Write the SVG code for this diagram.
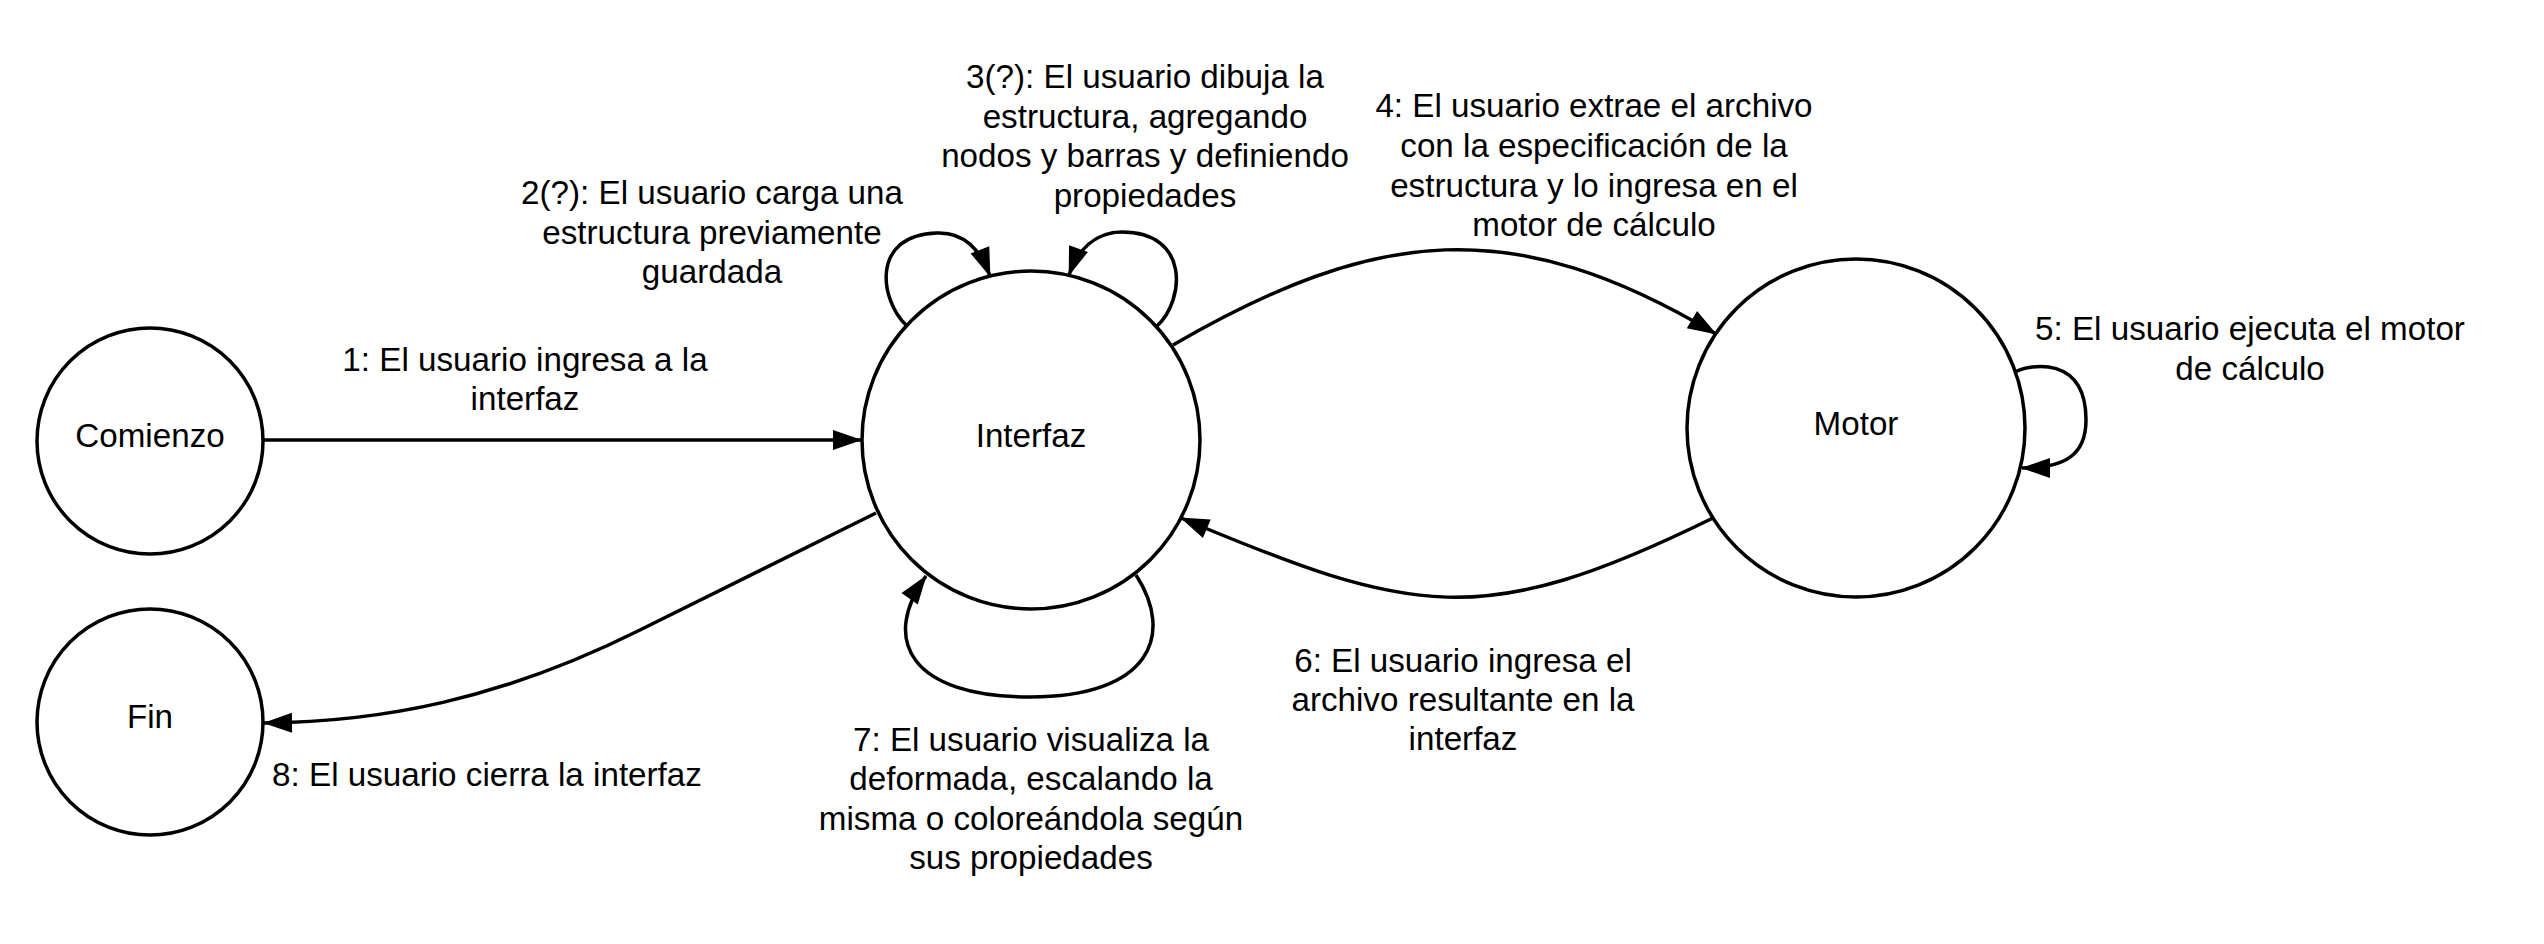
<svg xmlns="http://www.w3.org/2000/svg" width="2544" height="944" viewBox="0 0 2544 944">
<style>
.node{fill:#ffffff;stroke:#000000;stroke-width:3.5}
.edge{fill:none;stroke:#000000;stroke-width:3.5;marker-end:url(#arr)}
text{font-family:"Liberation Sans",Arial,sans-serif;font-size:33.2px;fill:#000000;text-anchor:middle}
</style>
<defs>
<marker id="arr" markerUnits="userSpaceOnUse" markerWidth="32" markerHeight="24" viewBox="-30 -12 32 24" refX="0" refY="0" orient="auto">
<path d="M1,0 L-28,-10 L-28,10 Z" fill="#000000"/>
</marker>
</defs>
<rect width="2544" height="944" fill="#ffffff"/>
<g id="connectors">
<path class="edge" d="M263,440 L861,440"/>
<path class="edge" d="M906,325 C880,300 870,235 937,233 C965,232 980,250 990,276"/>
<path class="edge" d="M1157,326 C1185,300 1190,232 1122,232 C1095,232 1078,250 1069,275"/>
<path class="edge" d="M1173,345 C1377,227 1513,213 1716,334"/>
<path class="edge" d="M2015,372 C2030,364 2086,355 2086,420 C2086,455 2065,468 2022,468"/>
<path class="edge" d="M1713,518 C1481,632 1412,615 1181,518"/>
<path class="edge" d="M1136,575 C1175,635 1150,697 1030,697 C910,697 880,640 926,576"/>
<path class="edge" d="M876,513 L640,630 C500,700 380,722 264,723"/>
</g>
<g id="labels">
<text x="525" y="371">1: El usuario ingresa a la</text>
<text x="525" y="410">interfaz</text>
<text x="712" y="204">2(?): El usuario carga una</text>
<text x="712" y="243.5">estructura previamente</text>
<text x="712" y="283">guardada</text>
<text x="1145" y="88">3(?): El usuario dibuja la</text>
<text x="1145" y="127.5">estructura, agregando</text>
<text x="1145" y="167">nodos y barras y definiendo</text>
<text x="1145" y="206.5">propiedades</text>
<text x="1594" y="117">4: El usuario extrae el archivo</text>
<text x="1594" y="157">con la especificación de la</text>
<text x="1594" y="196.5">estructura y lo ingresa en el</text>
<text x="1594" y="236">motor de cálculo</text>
<text x="2250" y="340">5: El usuario ejecuta el motor</text>
<text x="2250" y="380">de cálculo</text>
<text x="1463" y="672">6: El usuario ingresa el</text>
<text x="1463" y="711">archivo resultante en la</text>
<text x="1463" y="750">interfaz</text>
<text x="1031" y="751">7: El usuario visualiza la</text>
<text x="1031" y="790">deformada, escalando la</text>
<text x="1031" y="830">misma o coloreándola según</text>
<text x="1031" y="869">sus propiedades</text>
<text x="487" y="786">8: El usuario cierra la interfaz</text>
</g>
<g id="comienzo">
<circle class="node" cx="150" cy="441" r="113"/>
<text x="150" y="447">Comienzo</text>
</g>
<g id="fin">
<circle class="node" cx="150" cy="722" r="113"/>
<text x="150" y="728">Fin</text>
</g>
<g id="interfaz">
<circle class="node" cx="1031" cy="440" r="169"/>
<text x="1031" y="447">Interfaz</text>
</g>
<g id="motor">
<circle class="node" cx="1856" cy="428" r="169"/>
<text x="1856" y="435">Motor</text>
</g>
</svg>
